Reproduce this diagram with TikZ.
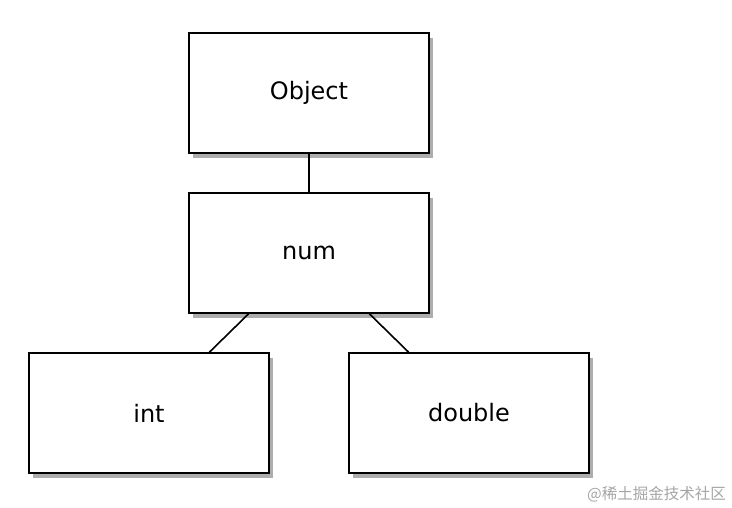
\documentclass[tikz,border=0pt]{standalone}
\usepackage{fontspec}
\setmainfont{DejaVu Sans}
\newfontfamily\cjk{Noto Sans CJK SC}
\usetikzlibrary{calc,shadows}
\tikzset{
  cls/.style={draw,line width=1.6pt,fill=white,minimum width=240pt,minimum height=120pt,
              inner sep=0pt,font=\fontsize{24}{28}\selectfont,
              drop shadow={shadow xshift=4pt,shadow yshift=-5pt,fill=black!32,opacity=1}},
  link/.style={line width=1.6pt}
}

\begin{document}
\begin{tikzpicture}[x=1pt,y=-1pt]
  \useasboundingbox[fill=white] (0,0) rectangle (732,508);

  \node[cls] (object) at (309,93) {Object};
  \node[cls] (num) at (309,253) {num};
  \node[cls] (int) at (149,413) {int};
  \node[cls] (double) at (469,413) {double};

  \draw[link] (object) -- (num);
  \draw[link] ($(num.south west)!0.25!(num.south east)$) -- ($(int.north west)!0.75!(int.north east)$);
  \draw[link] ($(num.south west)!0.75!(num.south east)$) -- ($(double.north west)!0.25!(double.north east)$);

  % watermark
  \node[anchor=east,text=black!35,font=\cjk\fontsize{15.5}{18}\selectfont,inner sep=0pt] (mark) at (726,494) {@稀土掘金技术社区};
\end{tikzpicture}
\end{document}
